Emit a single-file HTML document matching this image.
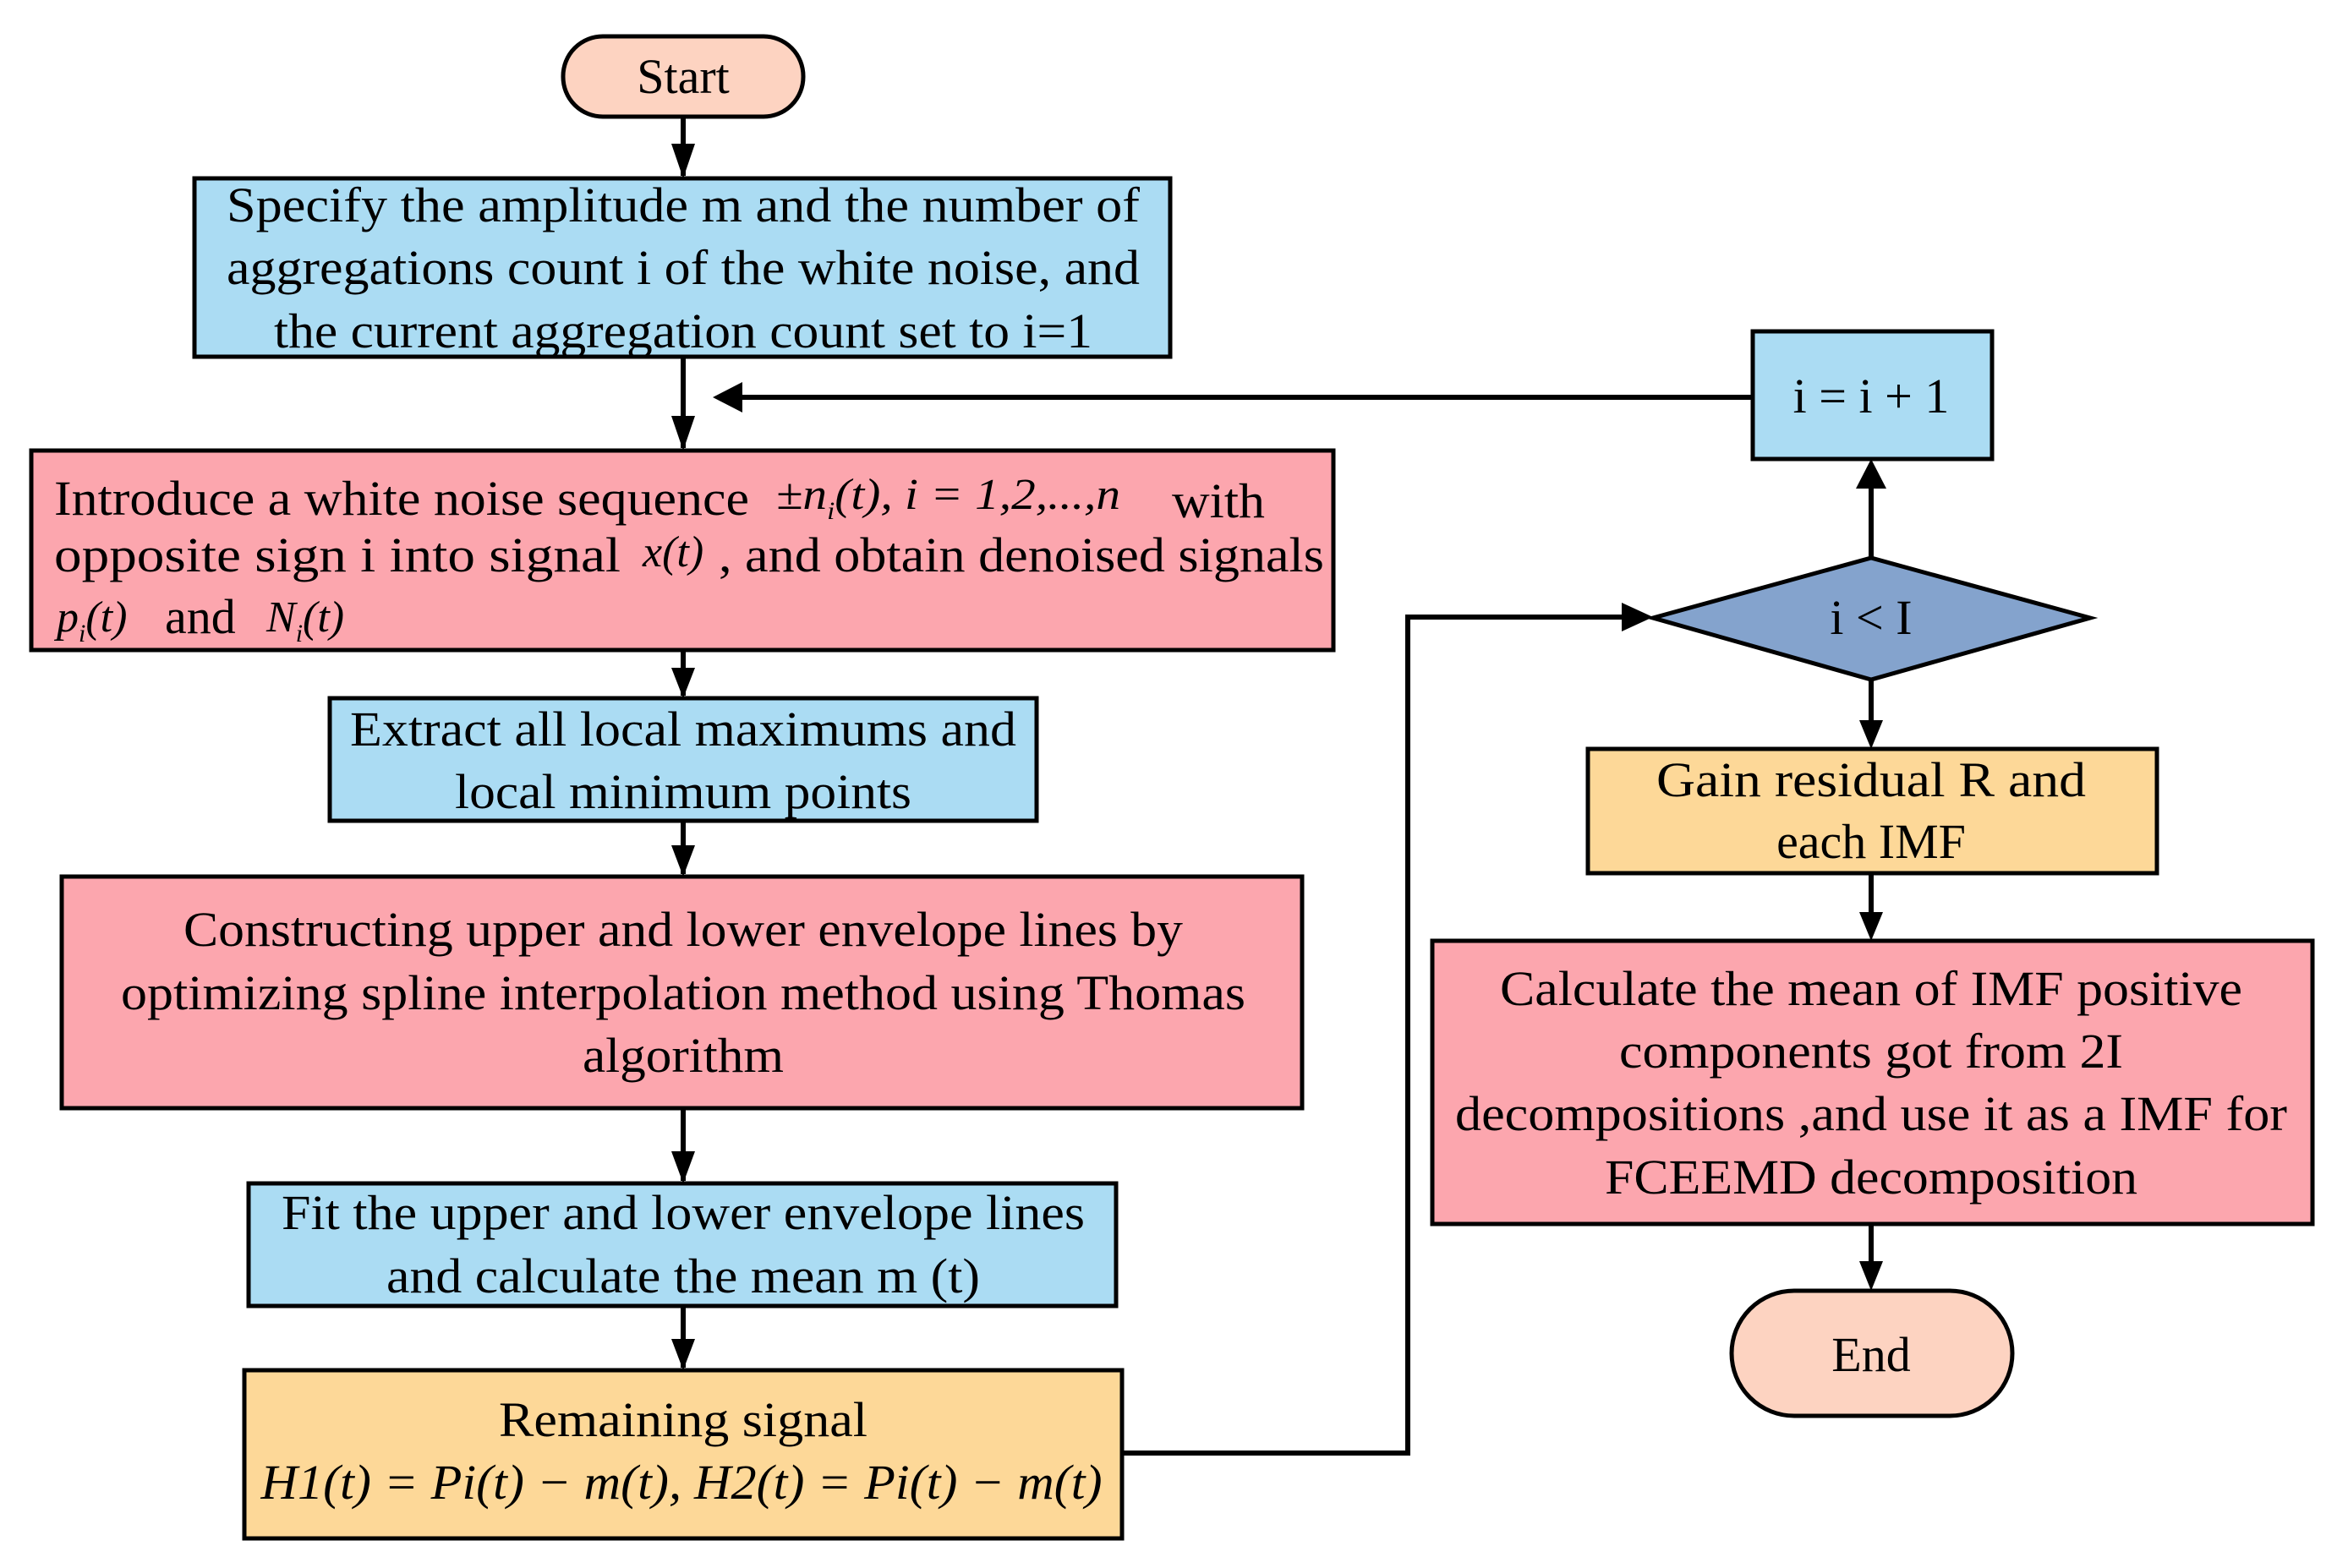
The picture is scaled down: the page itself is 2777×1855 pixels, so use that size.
<!DOCTYPE html>
<html><head><meta charset="utf-8"><style>
html,body{margin:0;padding:0;background:#fff;}
svg{display:block}
text{font-family:"Liberation Serif",serif;fill:#000;}
</style></head><body>
<svg width="2777" height="1855" viewBox="0 0 2777 1855" xmlns="http://www.w3.org/2000/svg">
<defs>
<marker id="a" markerWidth="10" markerHeight="10" refX="10" refY="5" orient="auto" markerUnits="userSpaceOnUse" viewBox="0 0 10 10"><path d="M0,0 L10,5 L0,10 z"/></marker>
</defs>
<g stroke="#000" stroke-width="6" fill="none">
<!-- connectors -->
<line x1="808" y1="138" x2="808" y2="208"/>
<line x1="808" y1="422" x2="808" y2="530"/>
<line x1="808" y1="769" x2="808" y2="823"/>
<line x1="808" y1="971" x2="808" y2="1034"/>
<line x1="808" y1="1311" x2="808" y2="1397"/>
<line x1="808" y1="1545" x2="808" y2="1618"/>
<line x1="2073" y1="470" x2="870" y2="470"/>
<polyline points="1327,1719 1665,1719 1665,730 1925,730"/>
<line x1="2213" y1="660" x2="2213" y2="573"/>
<line x1="2213" y1="804" x2="2213" y2="856"/>
<line x1="2213" y1="1033" x2="2213" y2="1083"/>
<line x1="2213" y1="1448" x2="2213" y2="1497"/>
</g>
<g fill="#000">
<path d="M794,170 L822,170 L808,211 z"/>
<path d="M794,492 L822,492 L808,533 z"/>
<path d="M794,790 L822,790 L808,826 z"/>
<path d="M794,1000 L822,1000 L808,1037 z"/>
<path d="M794,1362 L822,1362 L808,1400 z"/>
<path d="M794,1584 L822,1584 L808,1621 z"/>
<path d="M843,470 L878,452 L878,488 z"/>
<path d="M1955,730 L1918,713 L1918,747 z"/>
<path d="M2213,543 L2195,578 L2231,578 z"/>
<path d="M2199,852 L2227,852 L2213,886 z"/>
<path d="M2199,1079 L2227,1079 L2213,1113 z"/>
<path d="M2199,1492 L2227,1492 L2213,1527 z"/>
</g>
<g stroke="#000" stroke-width="5">
<rect x="666" y="43" width="284" height="95" rx="47" fill="#fdd3c1"/>
<rect x="230" y="211" width="1154" height="211" fill="#abdcf3"/>
<rect x="37" y="533" width="1540" height="236" fill="#fca6ae"/>
<rect x="390" y="826" width="836" height="145" fill="#abdcf3"/>
<rect x="73" y="1037" width="1467" height="274" fill="#fca6ae"/>
<rect x="294" y="1400" width="1026" height="145" fill="#abdcf3"/>
<rect x="289" y="1621" width="1038" height="199" fill="#fdd898"/>
<rect x="2073" y="392" width="283" height="151" fill="#abdcf3"/>
<path d="M1955,731 L2213,660 L2472,731 L2213,804 z" fill="#84a3cd"/>
<rect x="1878" y="886" width="673" height="147" fill="#fdd898"/>
<rect x="1694" y="1113" width="1041" height="335" fill="#fca6ae"/>
<rect x="2048" y="1527" width="332" height="148" rx="74" fill="#fdd3c1"/>
</g>
<g font-size="58">
<text x="808" y="110" text-anchor="middle">Start</text>
<text x="808" y="262" text-anchor="middle" textLength="1080" lengthAdjust="spacingAndGlyphs">Specify the amplitude m and the number of</text>
<text x="808" y="336" text-anchor="middle" textLength="1080" lengthAdjust="spacingAndGlyphs">aggregations count i of the white noise, and</text>
<text x="808" y="411" text-anchor="middle" textLength="968" lengthAdjust="spacingAndGlyphs">the current aggregation count set to i=1</text>

<text x="64" y="609" textLength="822" lengthAdjust="spacingAndGlyphs">Introduce a white noise sequence</text>
<text x="918" y="602" font-style="italic" font-size="52" textLength="407" lengthAdjust="spacingAndGlyphs">±n<tspan font-size="30" dy="12">i</tspan><tspan dy="-12">(t), i = 1,2,...,n</tspan></text>
<text x="1386" y="612" textLength="110" lengthAdjust="spacingAndGlyphs">with</text>
<text x="64" y="676" textLength="670" lengthAdjust="spacingAndGlyphs">opposite sign  i  into signal</text>
<text x="760" y="670" font-style="italic" font-size="52">x(t)</text>
<text x="850" y="676" textLength="716" lengthAdjust="spacingAndGlyphs">, and obtain denoised signals</text>
<text x="67" y="747" font-style="italic" font-size="52">p<tspan font-size="30" dy="12">i</tspan><tspan dy="-12">(t)</tspan></text>
<text x="195" y="749">and</text>
<text x="315" y="747" font-style="italic" font-size="52">N<tspan font-size="30" dy="12">i</tspan><tspan dy="-12">(t)</tspan></text>

<text x="808" y="882" text-anchor="middle" textLength="788" lengthAdjust="spacingAndGlyphs">Extract all local maximums and</text>
<text x="808" y="956" text-anchor="middle" textLength="540" lengthAdjust="spacingAndGlyphs">local minimum points</text>

<text x="808" y="1119" text-anchor="middle" textLength="1182" lengthAdjust="spacingAndGlyphs">Constructing upper and lower envelope lines by</text>
<text x="808" y="1194" text-anchor="middle" textLength="1330" lengthAdjust="spacingAndGlyphs">optimizing spline interpolation method using Thomas</text>
<text x="808" y="1268" text-anchor="middle" textLength="238" lengthAdjust="spacingAndGlyphs">algorithm</text>

<text x="808" y="1454" text-anchor="middle" textLength="950" lengthAdjust="spacingAndGlyphs">Fit the upper and lower envelope lines</text>
<text x="808" y="1529" text-anchor="middle" textLength="702" lengthAdjust="spacingAndGlyphs">and calculate the mean m (t)</text>

<text x="808" y="1699" text-anchor="middle" textLength="436" lengthAdjust="spacingAndGlyphs">Remaining signal</text>
<text x="806" y="1773" text-anchor="middle" font-style="italic" textLength="995" lengthAdjust="spacingAndGlyphs">H1(t) = Pi(t) − m(t), H2(t) = Pi(t) − m(t)</text>

<text x="2213" y="488" text-anchor="middle">i = i + 1</text>
<text x="2213" y="750" text-anchor="middle">i &lt; I</text>
<text x="2213" y="942" text-anchor="middle" textLength="508" lengthAdjust="spacingAndGlyphs">Gain  residual R and</text>
<text x="2213" y="1015" text-anchor="middle">each IMF</text>
<text x="2213" y="1189" text-anchor="middle" textLength="878" lengthAdjust="spacingAndGlyphs">Calculate the mean of IMF positive</text>
<text x="2213" y="1263" text-anchor="middle" textLength="596" lengthAdjust="spacingAndGlyphs">components got from 2I</text>
<text x="2213" y="1337" text-anchor="middle" textLength="984" lengthAdjust="spacingAndGlyphs">decompositions ,and use it as a IMF for</text>
<text x="2213" y="1412" text-anchor="middle" textLength="630" lengthAdjust="spacingAndGlyphs">FCEEMD decomposition</text>
<text x="2213" y="1622" text-anchor="middle">End</text>
</g>
</svg>
</body></html>
